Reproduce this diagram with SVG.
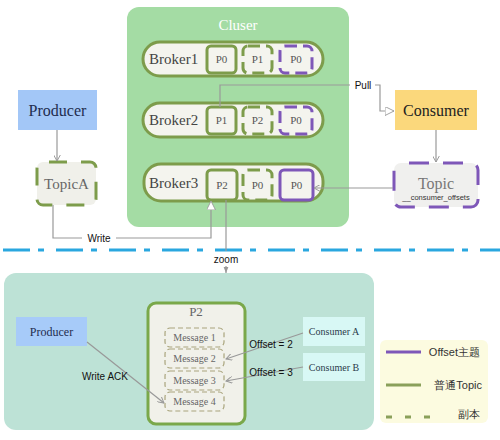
<svg xmlns="http://www.w3.org/2000/svg" width="500" height="440" viewBox="0 0 500 440">
<defs>
<style>
.serif{font-family:"Liberation Serif","DejaVu Serif",serif}
.sans{font-family:"Liberation Sans","DejaVu Sans",sans-serif}
.pill{fill:#f4f4ee;stroke:#7d9c4b;stroke-width:3}
.gs{fill:none;stroke:#7d9c4b;stroke-width:3}
.gd{fill:none;stroke:#7d9c4b;stroke-width:3;stroke-dasharray:12 6}
.ps{fill:none;stroke:#7e57b8;stroke-width:3}
.pd{fill:none;stroke:#7e57b8;stroke-width:3;stroke-dasharray:12 6}
.blab{font-size:15px;fill:#444}
.plab{font-size:11px;fill:#555;text-anchor:middle}
.conn{fill:none;stroke:#999;stroke-width:1.2}
.msg{fill:#f1f1ea;stroke:#a9a47c;stroke-width:1.2;stroke-dasharray:5 3}
.mlab{font-size:10px;fill:#666;text-anchor:middle}
.lbl{font-size:10px;fill:#111}
</style>
<marker id="hollow" viewBox="0 0 10 10" refX="10" refY="5" markerWidth="9" markerHeight="9" orient="auto" markerUnits="userSpaceOnUse">
<path d="M0,0 L10,5 L0,10 Z" fill="#fff" stroke="#999" stroke-width="1"/>
</marker>
<marker id="open" viewBox="0 0 10 10" refX="9" refY="5" markerWidth="7" markerHeight="7" orient="auto" markerUnits="userSpaceOnUse">
<path d="M0,0 L9,5 L0,10" fill="none" stroke="#999" stroke-width="1.4"/>
</marker>
<marker id="fill" viewBox="0 0 10 10" refX="10" refY="5" markerWidth="6" markerHeight="6" orient="auto" markerUnits="userSpaceOnUse">
<path d="M0,1 L10,5 L0,9 Z" fill="#999"/>
</marker>
</defs>
<rect width="500" height="440" fill="#ffffff"/>

<g id="cluster">
<rect x="127" y="7" width="222" height="220" rx="12" fill="#a4dca4"/>
<text class="serif" x="238" y="30" font-size="15" fill="#ffffff" text-anchor="middle">Cluser</text>
</g>

<g id="broker1">
<rect class="pill" x="143" y="42" width="180" height="34" rx="17"/>
<text class="serif blab" x="149" y="64">Broker1</text>
<rect class="gs" x="207" y="46" width="29" height="27" rx="4"/>
<text class="serif plab" x="221.5" y="63">P0</text>
<rect class="gd" x="243" y="46" width="29" height="27" rx="5"/>
<text class="serif plab" x="257.5" y="63">P1</text>
<rect class="pd" x="280" y="46" width="32" height="27" rx="5"/>
<text class="serif plab" x="296" y="63">P0</text>
</g>

<g id="broker2">
<rect class="pill" x="143" y="103" width="180" height="34" rx="17"/>
<text class="serif blab" x="149" y="125">Broker2</text>
<rect class="gs" x="207" y="107" width="29" height="27" rx="4"/>
<text class="serif plab" x="221.5" y="124">P1</text>
<rect class="gd" x="243" y="107" width="29" height="27" rx="5"/>
<text class="serif plab" x="257.5" y="124">P2</text>
<rect class="pd" x="280" y="107" width="32" height="27" rx="5"/>
<text class="serif plab" x="296" y="124">P0</text>
</g>

<g id="broker3">
<rect class="pill" x="144" y="164" width="179" height="37" rx="17"/>
<text class="serif blab" x="149" y="188">Broker3</text>
<rect class="gs" x="207" y="170" width="30" height="30" rx="4"/>
<text class="serif plab" x="222" y="189">P2</text>
<rect class="gd" x="243" y="170" width="29" height="30" rx="5"/>
<text class="serif plab" x="257.5" y="189">P0</text>
<rect class="ps" x="280" y="170" width="33" height="30" rx="4"/>
<text class="serif plab" x="296.5" y="189">P0</text>
</g>

<g id="producer-top">
<rect x="18" y="90" width="79" height="40" fill="#a3c7f7"/>
<text class="serif" x="57.5" y="116" font-size="16" fill="#1f2d4f" text-anchor="middle">Producer</text>
</g>

<g id="topicA">
<rect x="37" y="162" width="59" height="43" rx="6" fill="#f0f0ea"/>
<rect x="37" y="162" width="59" height="43" rx="6" fill="none" stroke="#7d9c4b" stroke-width="3" stroke-dasharray="18 14" stroke-dashoffset="-6"/>
<text class="serif" x="66.5" y="189" font-size="15" fill="#666" text-anchor="middle">TopicA</text>
</g>

<g id="consumer-top">
<rect x="395" y="90" width="82" height="40" fill="#fbd87c"/>
<text class="serif" x="436" y="116" font-size="16" fill="#222" text-anchor="middle">Consumer</text>
</g>

<g id="topic-offsets">
<rect x="394" y="163" width="84" height="44" rx="7" fill="#f0f0ee"/>
<rect x="394" y="163" width="84" height="44" rx="7" fill="none" stroke="#7e57b8" stroke-width="3" stroke-dasharray="20 14" stroke-dashoffset="-8"/>
<text class="serif" x="436" y="189" font-size="16" fill="#777" text-anchor="middle">Topic</text>
<text class="sans" x="436" y="200" font-size="7.5" fill="#333" text-anchor="middle">__consumer_offsets</text>
</g>

<g id="divider">
<line x1="0" y1="250" x2="500" y2="250" stroke="#2aa7df" stroke-width="3" stroke-dasharray="27 8 6 12" stroke-dashoffset="-3"/>
</g>

<g id="zoom-panel">
<rect x="4" y="273" width="370" height="157" rx="12" fill="#bde2d6"/>
</g>

<g id="producer-bottom">
<rect x="16" y="317" width="71" height="29" fill="#a7cbf9"/>
<text class="serif" x="51.5" y="336" font-size="12" fill="#1f2d4f" text-anchor="middle">Producer</text>
</g>

<g id="p2">
<rect x="148" y="303" width="97" height="121" rx="8" fill="#f1f1ea" stroke="#7aa84a" stroke-width="3"/>
<text class="serif" x="196" y="316" font-size="13" fill="#666" text-anchor="middle">P2</text>
</g>
<g id="message1">
<rect class="msg" x="165" y="328" width="59" height="19" rx="5"/>
<text class="serif mlab" x="194.5" y="341">Message 1</text>
</g>
<g id="message2">
<rect class="msg" x="165" y="349" width="59" height="19" rx="5"/>
<text class="serif mlab" x="194.5" y="362">Message 2</text>
</g>
<g id="message3">
<rect class="msg" x="165" y="371" width="59" height="19" rx="5"/>
<text class="serif mlab" x="194.5" y="384">Message 3</text>
</g>
<g id="message4">
<rect class="msg" x="165" y="392" width="59" height="19" rx="5"/>
<text class="serif mlab" x="194.5" y="405">Message 4</text>
</g>

<g id="consumerA">
<rect x="303" y="317" width="62" height="29" fill="#d8f8f5"/>
<text class="serif" x="334" y="335" font-size="10" fill="#2b3b4b" text-anchor="middle">Consumer A</text>
</g>
<g id="consumerB">
<rect x="303" y="353" width="62" height="28" fill="#d8f8f5"/>
<text class="serif" x="334" y="371" font-size="10" fill="#2b3b4b" text-anchor="middle">Consumer B</text>
</g>

<g id="legend">
<rect x="380" y="340" width="108" height="83" rx="6" fill="#fcfbe0"/>
<line x1="386" y1="352" x2="421" y2="352" stroke="#7e57b8" stroke-width="3"/>
<text class="sans" x="480" y="356" font-size="11" fill="#333" text-anchor="end">Offset主题</text>
<line x1="386" y1="385" x2="421" y2="385" stroke="#8aa05a" stroke-width="3"/>
<text class="sans" x="482" y="389" font-size="11" fill="#333" text-anchor="end">普通Topic</text>
<line x1="386" y1="417" x2="431" y2="417" stroke="#8aa05a" stroke-width="3" stroke-dasharray="6 13"/>
<text class="sans" x="480" y="418" font-size="11" fill="#333" text-anchor="end">副本</text>
</g>

<g id="connectors">
<line class="conn" x1="57" y1="130" x2="57" y2="161" marker-end="url(#open)"/>
<line class="conn" x1="436" y1="130" x2="436" y2="162" marker-end="url(#open)"/>
<line class="conn" x1="393" y1="188" x2="314" y2="188" marker-end="url(#open)"/>
<polyline class="conn" points="53,205 53,238 82,238"/>
<polyline class="conn" points="116,238 211,238 211,201" marker-end="url(#hollow)"/>
<text class="sans lbl" x="99" y="242" text-anchor="middle">Write</text>
<polyline class="conn" points="220,107 220,85 350,85"/>
<polyline class="conn" points="375,85 380,85 380,111 394,111" marker-end="url(#hollow)"/>
<text class="sans lbl" x="363" y="89" text-anchor="middle">Pull</text>
<line class="conn" x1="226" y1="200" x2="226" y2="251"/>
<line class="conn" x1="226" y1="266" x2="226" y2="273" marker-end="url(#fill)"/>
<text class="sans lbl" x="226" y="263" text-anchor="middle">zoom</text>
<line class="conn" x1="87" y1="342" x2="164" y2="403" marker-end="url(#open)"/>
<text class="sans lbl" x="105" y="380" text-anchor="middle">Write ACK</text>
<line class="conn" x1="303" y1="333" x2="226" y2="359" marker-end="url(#open)"/>
<text class="sans lbl" x="271" y="348" text-anchor="middle">Offset = 2</text>
<line class="conn" x1="303" y1="367" x2="226" y2="381" marker-end="url(#open)"/>
<text class="sans lbl" x="271" y="376" text-anchor="middle">Offset = 3</text>
</g>
</svg>
